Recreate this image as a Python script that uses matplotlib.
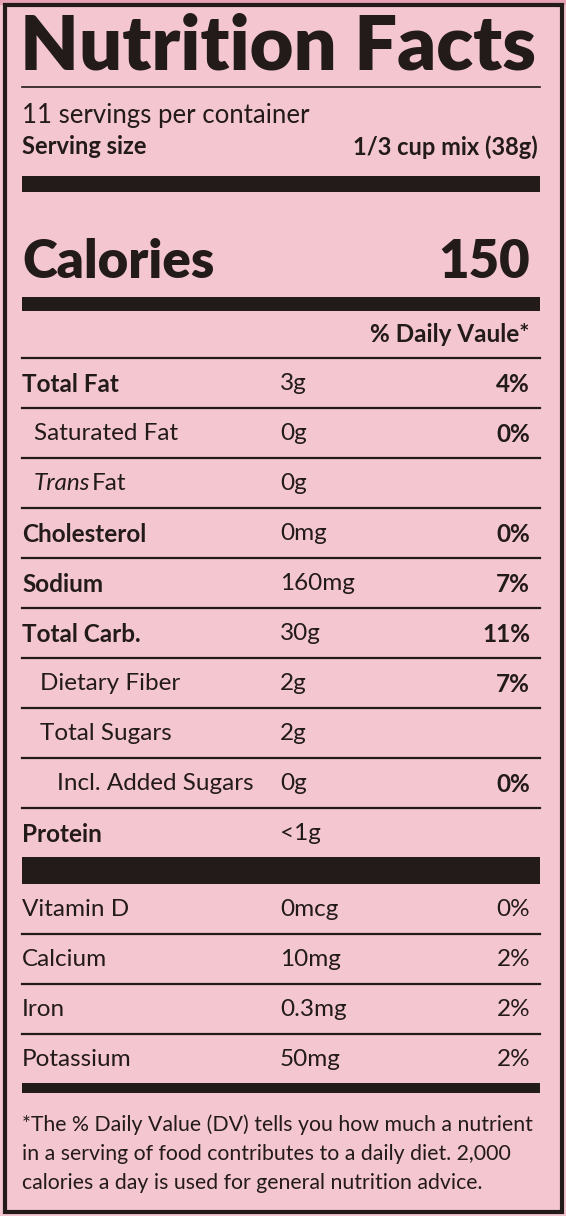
import matplotlib.pyplot as plt
from matplotlib.patches import Rectangle

plt.rcParams["font.family"] = ["Lato", "DejaVu Sans"]

BG = "#f3c6d0"
INK = "#231a1a"

nutrients = ["Total Fat", "Saturated Fat", "Trans Fat", "Cholesterol", "Sodium",
             "Total Carb.", "Dietary Fiber", "Total Sugars", "Incl. Added Sugars", "Protein"]
amounts = ["3g", "0g", "0g", "0mg", "160mg", "30g", "2g", "2g", "0g", "<1g"]
daily = ["4%", "0%", "", "0%", "7%", "11%", "7%", "", "0%", ""]
bold_row = [True, False, False, True, True, True, False, False, False, True]
indent = [0, 12, 12, 0, 0, 0, 18, 18, 35, 0]

vitamins = ["Vitamin D", "Calcium", "Iron", "Potassium"]
vit_amounts = ["0mcg", "10mg", "0.3mg", "50mg"]
vit_daily = ["0%", "2%", "2%", "2%"]

W, H = 566, 1216
fig = plt.figure(figsize=(W / 100, H / 100), dpi=100, facecolor=BG)
ax = fig.add_axes([0, 0, 1, 1])
ax.set_xlim(0, W)
ax.set_ylim(H, 0)
ax.axis("off")

ax.add_patch(Rectangle((0, 0), W, 4, color="#e7a2b8"))
ax.add_patch(Rectangle((4.5, 4.5), W - 9, H - 9, fill=False, edgecolor=INK, lw=3))

L, R = 22, 540
FS = 17.5


def bar(y0, y1):
    ax.add_patch(Rectangle((L, y0), R - L, y1 - y0, color=INK, lw=0))


def line(y, lw=1.6):
    ax.plot([L, R], [y, y], color=INK, lw=lw)


ax.text(L - 2, 48, "Nutrition Facts", fontsize=54.5, fontweight="heavy", color=INK, va="center")
line(87, 1.2)
ax.text(L, 115, "11 servings per container", fontsize=18.5, color=INK, va="center")
ax.text(L, 147, "Serving size", fontsize=17, fontweight="bold", color=INK, va="center")
ax.text(538, 147, "1/3 cup mix (38g)", fontsize=17, fontweight="bold", color=INK, va="center", ha="right")
bar(176, 192)
ax.text(L, 262, "Calories", fontsize=38, fontweight="heavy", color=INK, va="center")
ax.text(530, 262, "150", fontsize=38, fontweight="heavy", color=INK, va="center", ha="right")
bar(297, 311)
ax.text(530, 334, "% Daily Vaule*", fontsize=17.5, fontweight="bold", color=INK, va="center", ha="right")

y = 358
for name, amt, dv, b, ind in zip(nutrients, amounts, daily, bold_row, indent):
    line(y)
    yc = y + 26
    w = "bold" if b else "normal"
    if name == "Trans Fat":
        ax.text(L + ind, yc, "Trans", fontsize=FS, style="italic", color=INK, va="center")
        ax.text(L + ind + 58, yc, "Fat", fontsize=FS, color=INK, va="center")
    else:
        ax.text(L + ind, yc, name, fontsize=FS, fontweight=w, color=INK, va="center")
    ax.text(280, yc, amt, fontsize=FS, color=INK, va="center")
    ax.text(530, yc, dv, fontsize=FS, fontweight="bold", color=INK, va="center", ha="right")
    y += 50
bar(857, 884)

y = 884
for i, (name, amt, dv) in enumerate(zip(vitamins, vit_amounts, vit_daily)):
    if i > 0:
        line(y)
    yc = y + 25
    ax.text(L, yc, name, fontsize=FS, color=INK, va="center")
    ax.text(280, yc, amt, fontsize=FS, color=INK, va="center")
    ax.text(530, yc, dv, fontsize=FS, color=INK, va="center", ha="right")
    y += 50
bar(1083, 1093)

foot = ["*The % Daily Value (DV) tells you how much a nutrient",
        "in a serving of food contributes to a daily diet. 2,000",
        "calories a day is used for general nutrition advice."]
for i, t in enumerate(foot):
    ax.text(L, 1125 + i * 29, t, fontsize=15.3, color=INK, va="center")

fig.savefig("out.png", dpi=100, facecolor=BG)
